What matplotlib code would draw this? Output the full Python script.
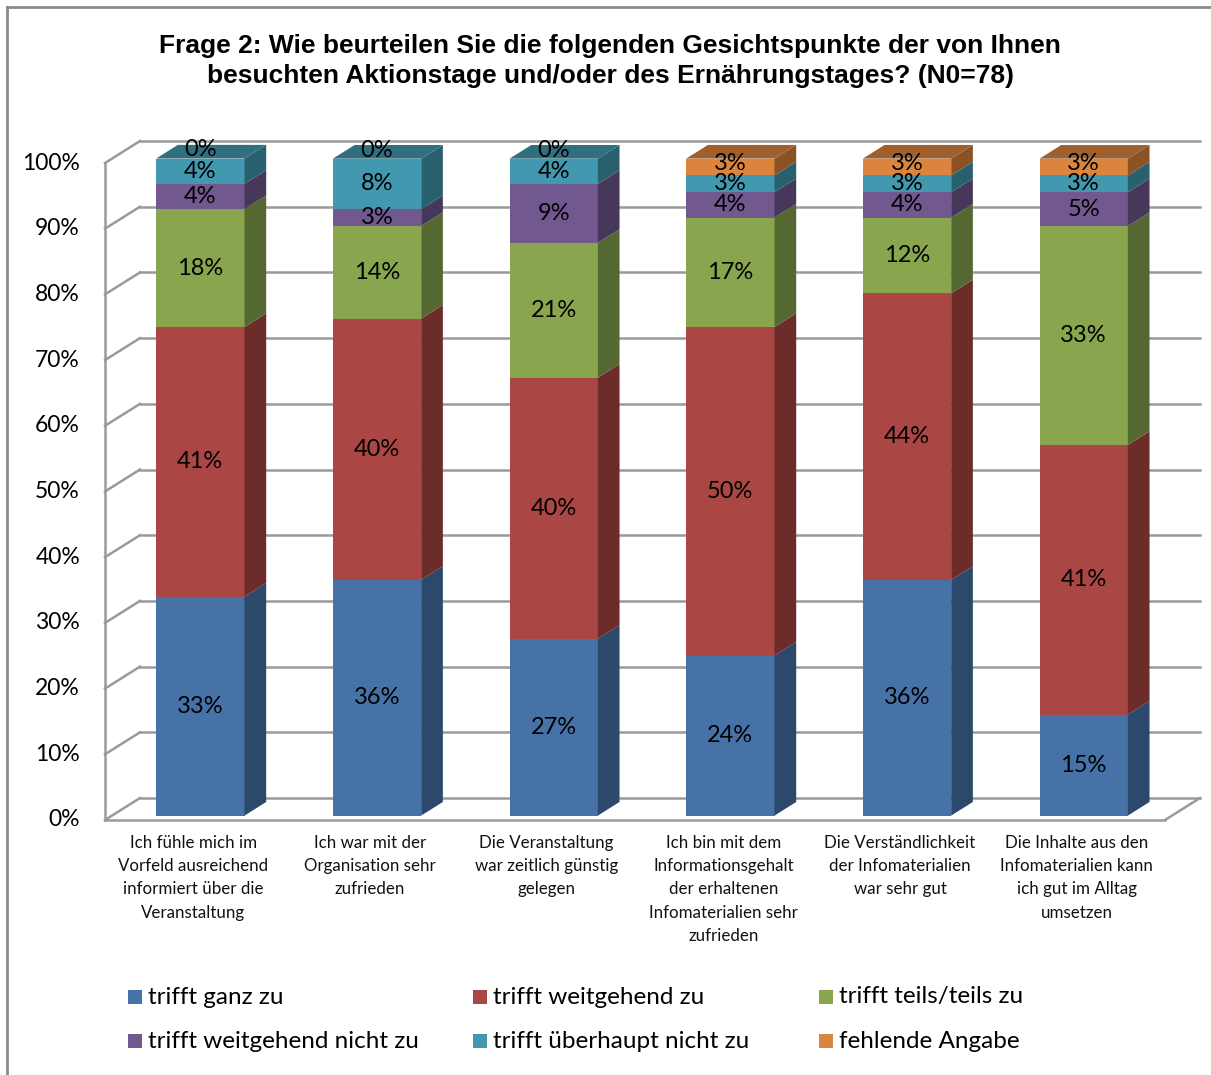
import matplotlib
matplotlib.use('Agg')
import matplotlib.pyplot as plt
from matplotlib.patches import Polygon, Rectangle
from matplotlib.lines import Line2D
import matplotlib.colors as mcolors

# ---------------- data ----------------
categories = [
    "Ich fühle mich im\nVorfeld ausreichend\ninformiert über die\nVeranstaltung",
    "Ich war mit der\nOrganisation sehr\nzufrieden",
    "Die Veranstaltung\nwar zeitlich günstig\ngelegen",
    "Ich bin mit dem\nInformationsgehalt\nder erhaltenen\nInfomaterialien sehr\nzufrieden",
    "Die Verständlichkeit\nder Infomaterialien\nwar sehr gut",
    "Die Inhalte aus den\nInfomaterialien kann\nich gut im Alltag\numsetzen",
]
series_names = ["trifft ganz zu", "trifft weitgehend zu", "trifft teils/teils zu",
                "trifft weitgehend nicht zu", "trifft überhaupt nicht zu", "fehlende Angabe"]
trifft_ganz_zu = [33.33, 35.90, 26.92, 24.36, 35.90, 15.38]
trifft_weitgehend_zu = [41.03, 39.74, 39.74, 50.00, 43.59, 41.03]
trifft_teils_zu = [17.95, 14.10, 20.51, 16.67, 11.54, 33.33]
trifft_weitgehend_nicht_zu = [3.85, 2.56, 8.97, 3.85, 3.85, 5.13]
trifft_ueberhaupt_nicht_zu = [3.85, 7.69, 3.85, 2.56, 2.56, 2.56]
fehlende_angabe = [0.0, 0.0, 0.0, 2.56, 2.56, 2.56]
yticks = [0, 10, 20, 30, 40, 50, 60, 70, 80, 90, 100]

series = [trifft_ganz_zu, trifft_weitgehend_zu, trifft_teils_zu,
          trifft_weitgehend_nicht_zu, trifft_ueberhaupt_nicht_zu, fehlende_angabe]
colors = ["#4672A8", "#AA4643", "#89A54E", "#71588F", "#4198AF", "#DB843D"]

# ---------------- layout ----------------
W, H = 1211, 1075
fig = plt.figure(figsize=(W / 100, H / 100), dpi=100)
px_left, px_right = 105, 1165
px_y0, px_y100 = 820, 163
ax = fig.add_axes([px_left / W, 1 - px_y0 / H, (px_right - px_left) / W, (px_y0 - px_y100) / H])
n = len(categories)
ax.set_xlim(0, n)
ax.set_ylim(0, 100)
ax.axis('off')

ppx = (px_right - px_left) / n
ppy = (px_y0 - px_y100) / 100.0
DX = 35 / ppx      # depth offset in data units
DY = 22 / ppy
f0, f1 = 0.20, 0.82
grid_c = '#9a9a9a'

# walls / gridlines
for t in yticks:
    ax.add_line(Line2D([0, DX], [t, t + DY], color=grid_c, lw=1.8, zorder=1, clip_on=False))
    ax.add_line(Line2D([DX, n + DX], [t + DY, t + DY], color=grid_c, lw=1.8, zorder=1, clip_on=False))
ax.add_line(Line2D([0, n], [0, 0], color=grid_c, lw=1.8, zorder=1, clip_on=False))
ax.add_line(Line2D([n, n + DX], [0, DY], color=grid_c, lw=1.8, zorder=1, clip_on=False))
ax.add_line(Line2D([0, 0], [0, 100], color=grid_c, lw=1.8, zorder=1, clip_on=False))

def shade(c, k):
    r, g, b = mcolors.to_rgb(c)
    return (r * k, g * k, b * k)

LABEL_FONT = ['Lato', 'DejaVu Sans']
bw = 0.5
last = len(series) - 1
for i in range(n):
    x0 = i + 0.5 - bw / 2 + f0 * DX
    x1 = x0 + bw
    sx, sy = (f1 - f0) * DX, (f1 - f0) * DY
    base = 0.0
    top_color = None
    for s, vals in enumerate(series):
        v = vals[i]
        y0 = base + f0 * DY
        y1 = y0 + v
        if v > 0:
            ax.add_patch(Rectangle((x0, y0), bw, v, facecolor=colors[s], edgecolor='none',
                                   zorder=3, clip_on=False))
            ax.add_patch(Polygon([(x1, y0), (x1 + sx, y0 + sy), (x1 + sx, y1 + sy), (x1, y1)],
                                 closed=True, facecolor=shade(colors[s], 0.63), edgecolor='none',
                                 zorder=3, clip_on=False))
            top_color = colors[s]
            ly = (y0 + y1) / 2
            if s == last:
                ly += 0.6
        else:
            ly = y0 + 1.3
        ax.text(x0 + bw / 2, ly, f"{int(v + 0.5)}%", ha='center', va='center',
                fontsize=17, family=LABEL_FONT, color='black', zorder=5)
        base += v
    ytop = base + f0 * DY
    ax.add_patch(Polygon([(x0, ytop), (x1, ytop), (x1 + sx, ytop + sy), (x0 + sx, ytop + sy)],
                         closed=True, facecolor=shade(top_color, 0.73), edgecolor='none',
                         zorder=3, clip_on=False))
    # category label
    ax.text(i + 0.5, -2.3, categories[i], ha='center', va='top', fontsize=12.2,
            family=LABEL_FONT, linespacing=1.55, color='#111111')

# y tick labels
for t in yticks:
    ax.text(-25 / ppx, t, f"{t}%", ha='right', va='center', fontsize=16.5,
            family=LABEL_FONT, color='black')

# title
fig.text(610 / W, 1 - 61 / H,
         "Frage 2: Wie beurteilen Sie die folgenden Gesichtspunkte der von Ihnen\n"
         "besuchten Aktionstage und/oder des Ernährungstages? (N0=78)",
         ha='center', va='center', fontsize=19, fontweight='bold',
         family=['Liberation Sans', 'DejaVu Sans'], linespacing=1.3)

# legend (manual, 3 columns x 2 rows)
col_x = [128, 473, 819]
row_y = [997, 1041]
sq = 14
for k, name in enumerate(series_names):
    cx = col_x[k % 3]
    cy = row_y[k // 3]
    fig.patches.append(Rectangle((cx / W, 1 - (cy + sq / 2) / H), sq / W, sq / H,
                                 transform=fig.transFigure, facecolor=colors[k], edgecolor='none'))
    fig.text((cx + sq + 6) / W, 1 - cy / H, name, ha='left', va='center', fontsize=17.5,
             family=LABEL_FONT, color='black')

# outer border (left & top)
fig.lines.append(Line2D([7 / W, 7 / W], [0, 1 - 7 / H], transform=fig.transFigure,
                        color='#8a8a8a', lw=2))
fig.lines.append(Line2D([7 / W, 1], [1 - 7 / H, 1 - 7 / H], transform=fig.transFigure,
                        color='#8a8a8a', lw=2))

fig.savefig('out.png', dpi=100, facecolor='white')
